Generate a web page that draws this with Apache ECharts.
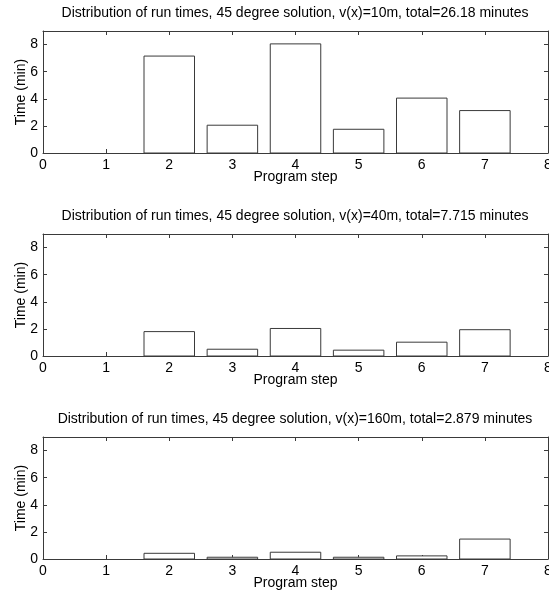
<!DOCTYPE html>
<html lang="en">
<head>
    <meta charset="UTF-8">
    <title>Distribution of run times</title>
    <script src="https://cdn.jsdelivr.net/npm/echarts@6.0.0/dist/echarts.min.js"></script>
    <style>
        html, body { margin: 0; padding: 0; background: #fff; }
        #chart { width: 549px; height: 593px; }
    </style>
</head>
<body>
    <div id="chart"></div>
    <script>
        // data
        const steps = [1, 2, 3, 4, 5, 6, 7];
        const times10 = [0, 7.15, 2.05, 8.05, 1.75, 4.05, 3.13];
        const times40 = [0, 1.8, 0.5, 2.03, 0.43, 1.02, 1.94];
        const times160 = [0, 0.42, 0.13, 0.5, 0.13, 0.23, 1.47];
        const titles = [
            'Distribution of run times, 45 degree solution, v(x)=10m, total=26.18 minutes',
            'Distribution of run times, 45 degree solution, v(x)=40m, total=7.715 minutes',
            'Distribution of run times, 45 degree solution, v(x)=160m, total=2.879 minutes'
        ];
        const panels = [times10, times40, times160];

        const font = 'Liberation Sans, Arial, sans-serif';
        const fontSize = 14;
        const lineColor = '#3a3a3a';
        const gridTops = [31, 234, 437];
        const gridHeight = 122;
        const barWidth = 0.8;

        const chart = echarts.init(document.getElementById('chart'));

        const grid = [], xAxis = [], yAxis = [], title = [], series = [];

        panels.forEach((vals, i) => {
            grid.push({ left: 43, right: 1, top: gridTops[i], height: gridHeight, outerBoundsMode: 'none' });
            title.push({
                text: titles[i],
                left: 290, top: gridTops[i] - 30,
                textAlign: 'center',
                textStyle: { fontFamily: font, fontSize: fontSize, fontWeight: 'normal', color: '#000' }
            });
            const axisLine = { show: true, onZero: false, lineStyle: { color: lineColor, width: 1 } };
            const tick = { show: true, inside: true, length: 4, lineStyle: { color: lineColor } };
            const textStyle = { color: '#000', fontFamily: font, fontSize: fontSize };
            xAxis.push({
                type: 'value', gridIndex: i, min: 0, max: 8, interval: 1, position: 'bottom',
                axisLine, axisTick: tick, splitLine: { show: false },
                axisLabel: Object.assign({ margin: 5 }, textStyle),
                name: 'Program step', nameLocation: 'middle', nameGap: 17, nameMoveOverlap: false,
                nameTextStyle: textStyle
            });
            xAxis.push({
                type: 'value', gridIndex: i, min: 0, max: 8, interval: 1, position: 'top',
                axisLine, axisTick: tick, splitLine: { show: false }, axisLabel: { show: false }
            });
            yAxis.push({
                type: 'value', gridIndex: i, min: 0, max: 9, interval: 2, position: 'left',
                axisLine, axisTick: tick, splitLine: { show: false },
                axisLabel: Object.assign({ margin: 5, showMaxLabel: false }, textStyle),
                name: 'Time (min)', nameLocation: 'middle', nameGap: 15, nameMoveOverlap: false,
                nameTextStyle: textStyle
            });
            yAxis.push({
                type: 'value', gridIndex: i, min: 0, max: 9, interval: 2, position: 'right',
                axisLine, axisTick: tick, splitLine: { show: false }, axisLabel: { show: false }
            });
            series.push({
                type: 'custom',
                xAxisIndex: i * 2,
                yAxisIndex: i * 2,
                data: steps.map((s, k) => [s, vals[k]]),
                renderItem: function (params, api) {
                    const x = api.value(0), y = api.value(1);
                    if (!y) return null; // a zero bar sits on the axis line
                    const p0 = api.coord([x - barWidth / 2, y]);
                    const p1 = api.coord([x + barWidth / 2, 0]);
                    return {
                        type: 'rect',
                        shape: { x: p0[0], y: p0[1], width: p1[0] - p0[0], height: p1[1] - p0[1] },
                        style: { fill: '#fff', stroke: lineColor, lineWidth: 1 }
                    };
                }
            });
        });

        chart.setOption({
            animation: false,
            backgroundColor: '#fff',
            title, grid, xAxis, yAxis, series
        });

        window.addEventListener('resize', () => chart.resize());
    </script>
</body>
</html>
